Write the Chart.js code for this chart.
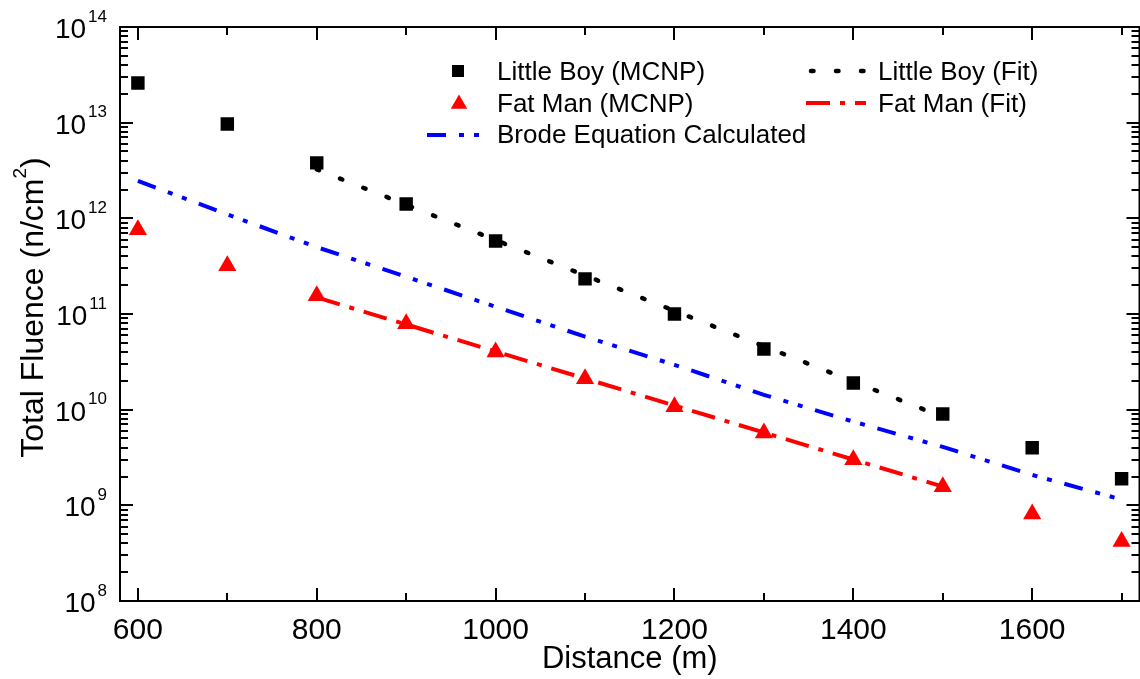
<!DOCTYPE html>
<html>
<head>
<meta charset="utf-8">
<script src="https://cdn.jsdelivr.net/npm/chart.js@4.4.1/dist/chart.umd.min.js"></script>
<style>
  html, body { margin: 0; padding: 0; background: #fff; overflow: hidden; }
  #wrap { width: 1140px; height: 679px; overflow: hidden; }
</style>
</head>
<body>
<div id="wrap"><canvas id="fluenceChart" width="1150" height="679"></canvas></div>
<script>
// values (n/cm^2 vs distance in m)
const distances = [600, 700, 800, 900, 1000, 1100, 1200, 1300, 1400, 1500, 1600, 1700];
const littleBoyMcnp = [2.6e13, 9.7e12, 3.8e12, 1.41e12, 5.8e11, 2.33e11, 1.0e11, 4.3e10, 1.9e10, 9.0e9, 4.0e9, 1.9e9];
const fatManMcnp = [7.6e11, 3.2e11, 1.55e11, 7.9e10, 4.0e10, 2.1e10, 1.07e10, 5.7e9, 3.0e9, 1.56e9, 8.1e8, 4.2e8];
const brodeCalculated = [2.46e12, 1.1e12, 5.0e11, 2.45e11, 1.19e11, 5.8e10, 2.94e10, 1.43e10, 7.5e9, 4.08e9, 2.08e9, 1.15e9];
const fitDistances = [800, 1500];
const littleBoyFit = [3.25e12, 8.4e9];
const fatManFit = [1.49e11, 1.57e9];

const xMajorTicks = [600, 800, 1000, 1200, 1400, 1600];
const xMinorTicks = [700, 900, 1100, 1300, 1500, 1700];
const yExponents = [8, 9, 10, 11, 12, 13, 14];

const FONT = '"Liberation Sans", Arial, sans-serif';

function toPoints(xs, ys) {
  return xs.map((x, i) => ({ x: x, y: ys[i] }));
}

// inward ticks, frame, labels and legend drawn from the chart scales
const axisFrame = {
  id: "axisFrame",
  afterDraw(chart) {
    const { ctx, chartArea: a, scales } = chart;
    const x = scales.x, y = scales.y;
    ctx.save();
    ctx.strokeStyle = "#000";
    ctx.fillStyle = "#000";
    ctx.lineWidth = 2;
    ctx.setLineDash([]);
    ctx.strokeRect(a.left, a.top, a.right - a.left, a.bottom - a.top);

    function seg(x0, y0, x1, y1) {
      ctx.beginPath();
      ctx.moveTo(x0, y0);
      ctx.lineTo(x1, y1);
      ctx.stroke();
    }

    xMajorTicks.concat(xMinorTicks).forEach((v) => {
      const px = Math.round(x.getPixelForValue(v));
      const len = xMajorTicks.includes(v) ? 13 : 8;
      seg(px, a.bottom, px, a.bottom - len);
      seg(px, a.top, px, a.top + len);
    });

    yExponents.forEach((e) => {
      const py = Math.round(y.getPixelForValue(Math.pow(10, e)));
      seg(a.left, py, a.left + 13, py);
      seg(a.right, py, a.right - 13, py);
      if (e < 14) {
        for (let m = 2; m <= 9; m++) {
          const pm = Math.round(y.getPixelForValue(m * Math.pow(10, e)));
          seg(a.left, pm, a.left + 8, pm);
          seg(a.right, pm, a.right - 8, pm);
        }
      }
    });

    // y tick labels 10^n
    ctx.textAlign = "right";
    ctx.textBaseline = "alphabetic";
    yExponents.forEach((e) => {
      const py = y.getPixelForValue(Math.pow(10, e));
      ctx.font = "17px " + FONT;
      const ew = ctx.measureText(String(e)).width;
      ctx.fillText(String(e), 107, py - 5.5);
      ctx.font = "28px " + FONT;
      ctx.fillText("10", 107 - ew - 2, py + 11);
    });

    // x tick labels
    ctx.textAlign = "center";
    ctx.font = "30px " + FONT;
    xMajorTicks.forEach((v) => {
      ctx.fillText(String(v), x.getPixelForValue(v), 639);
    });

    // axis titles
    ctx.font = "31px " + FONT;
    ctx.fillText("Distance (m)", (a.left + a.right) / 2, 668);

    ctx.save();
    const mainTxt = "Total Fluence (n/cm";
    ctx.font = "32px " + FONT;
    const w1 = ctx.measureText(mainTxt).width;
    const w3 = ctx.measureText(")").width;
    ctx.font = "19px " + FONT;
    const w2 = ctx.measureText("2").width;
    const total = w1 + w2 + w3;
    ctx.translate(43, 307.5 + total / 2);
    ctx.rotate(-Math.PI / 2);
    ctx.textAlign = "left";
    ctx.font = "32px " + FONT;
    ctx.fillText(mainTxt, 0, 0);
    ctx.font = "19px " + FONT;
    ctx.fillText("2", w1, -17);
    ctx.font = "32px " + FONT;
    ctx.fillText(")", w1 + w2, 0);
    ctx.restore();

    // legend
    const ds = chart.data.datasets;
    const entries = [
      { d: ds[0], x0: 458, tx: 497, base: 80, cy: 71, r: 8.5 },
      { d: ds[1], x0: 459, tx: 497, base: 112, cy: 104, r: 9.5 },
      { d: ds[4], x0: 427, x1: 480, tx: 497, base: 143, cy: 135 },
      { d: ds[2], x0: 811, x1: 866, tx: 878, base: 80, cy: 71 },
      { d: ds[3], x0: 806, x1: 866, tx: 878, base: 112, cy: 103 }
    ];
    entries.forEach((en) => {
      const d = en.d;
      if (d.showLine) {
        ctx.strokeStyle = d.borderColor;
        ctx.lineWidth = d.borderWidth;
        ctx.lineCap = d.borderCapStyle || "butt";
        ctx.setLineDash(d.borderDash || []);
        seg(en.x0, en.cy, en.x1, en.cy);
        ctx.setLineDash([]);
        ctx.lineCap = "butt";
      } else {
        ctx.fillStyle = d.backgroundColor;
        Chart.helpers.drawPoint(ctx, { pointStyle: d.pointStyle, radius: en.r, rotation: 0, borderWidth: 0 }, en.x0, en.cy);
      }
      ctx.fillStyle = "#000";
      ctx.font = "26px " + FONT;
      ctx.textAlign = "left";
      ctx.fillText(d.label, en.tx, en.base);
    });
    ctx.restore();
  }
};

const ctx = document.getElementById("fluenceChart").getContext("2d");

new Chart(ctx, {
  type: "scatter",
  data: {
    datasets: [
      {
        label: "Little Boy (MCNP)",
        data: toPoints(distances, littleBoyMcnp),
        pointStyle: "rect",
        pointRadius: 9.5,
        backgroundColor: "#000000",
        pointBorderWidth: 0,
        showLine: false,
        order: 0
      },
      {
        label: "Fat Man (MCNP)",
        data: toPoints(distances, fatManMcnp),
        pointStyle: "triangle",
        pointRadius: 10.5,
        backgroundColor: "#ff0000",
        pointBorderWidth: 0,
        showLine: false,
        order: 0
      },
      {
        label: "Little Boy (Fit)",
        data: toPoints(fitDistances, littleBoyFit),
        showLine: true,
        pointRadius: 0,
        borderColor: "#000000",
        borderWidth: 4.5,
        borderDash: [2.5, 22.5],
        borderCapStyle: "round",
        order: 1
      },
      {
        label: "Fat Man (Fit)",
        data: toPoints(fitDistances, fatManFit),
        showLine: true,
        pointRadius: 0,
        borderColor: "#ff0000",
        borderWidth: 4,
        borderDash: [24, 10, 5, 10],
        order: 1
      },
      {
        label: "Brode Equation Calculated",
        data: toPoints(distances, brodeCalculated),
        showLine: true,
        pointRadius: 0,
        borderColor: "#0000ff",
        borderWidth: 4,
        borderDash: [19, 13, 5, 10, 5, 13],
        order: 1
      }
    ]
  },
  options: {
    responsive: false,
    animation: false,
    layout: { padding: { left: 120, top: 27, right: 0, bottom: 78 } },
    plugins: {
      legend: { display: false },
      tooltip: { enabled: false }
    },
    scales: {
      x: { type: "linear", min: 580, max: 1720, display: false },
      y: { type: "logarithmic", min: 1e8, max: 1e14, display: false }
    }
  },
  plugins: [axisFrame]
});
</script>
</body>
</html>
